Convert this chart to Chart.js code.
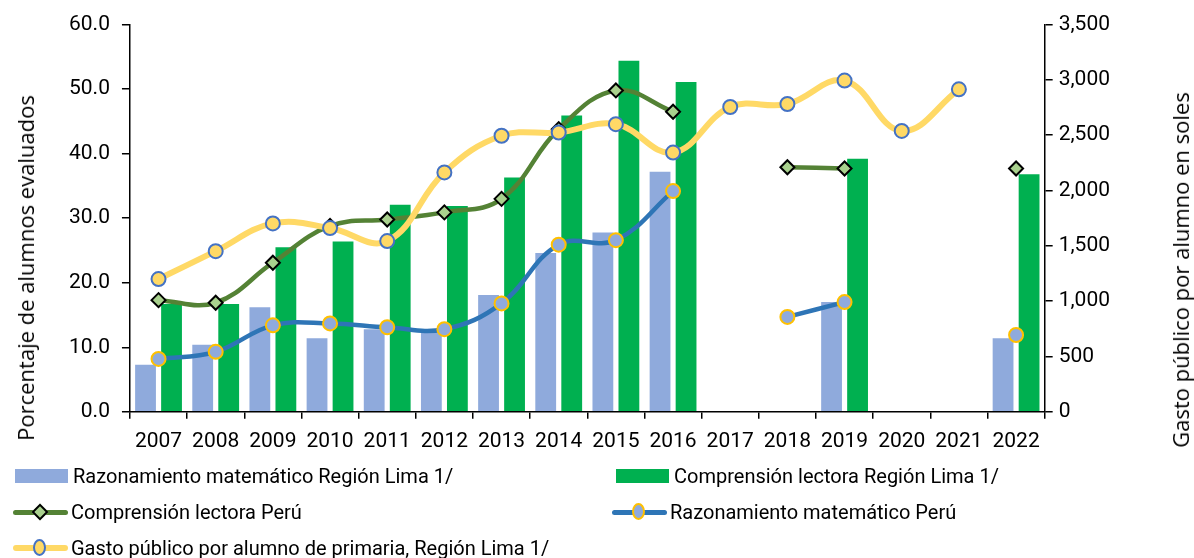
<!DOCTYPE html>
<html>
<head>
<meta charset="utf-8">
<script src="https://cdn.jsdelivr.net/npm/chart.js@4.4.0/dist/chart.umd.min.js"></script>
<style>
    body { margin: 0; background: #fff; }
    #wrap { position: relative; width: 1194px; height: 558px; }
    .ytitle { position: absolute; font-family: 'Open Sans', sans-serif; font-size: 22px; color: #000;
              white-space: nowrap; transform: translate(-50%, -50%) rotate(-90deg); }
    .leg { position: absolute; font-family: Roboto, sans-serif; font-size: 20px; color: #000; white-space: nowrap;
           display: flex; align-items: center; height: 24px; }
    .sw { position: relative; width: 55px; height: 24px; margin-right: 3px; }
    .sw .bar { position: absolute; left: 0; top: 5px; width: 53px; height: 14px; }
    .sw .ln { position: absolute; left: 0; top: 9px; width: 55px; border-radius: 3px; }
    .sw .mk { position: absolute; left: 20px; top: 5px; width: 10px; height: 10px; border: 2px solid; }
</style>
</head>
<body>
<div id="wrap">
    <canvas id="chart" width="1194" height="558"></canvas>
    <div class="ytitle" style="left: 25px; top: 268px;">Porcentaje de alumnos evaluados</div>
    <div class="ytitle" style="left: 1180px; top: 270px;">Gasto público por alumno en soles</div>
    <div id="legend"></div>
</div>
<script>
years = ['2007', '2008', '2009', '2010', '2011', '2012', '2013', '2014',
         '2015', '2016', '2017', '2018', '2019', '2020', '2021', '2022']

raz_mat_lima = [7.3, 10.4, 16.2, 11.4, 12.8, 12.3, 18.1, 24.6, 27.8, 37.2, null, null, 17.0, null, null, 11.4]
comp_lec_lima = [16.7, 16.7, 25.5, 26.4, 32.1, 31.9, 36.3, 45.9, 54.4, 51.1, null, null, 39.2, null, null, 36.8]
comp_lec_peru = [17.3, 16.9, 23.1, 28.8, 29.8, 30.9, 33.0, 43.8, 49.8, 46.5, null, 37.9, 37.7, null, null, 37.7]
raz_mat_peru = [8.2, 9.3, 13.4, 13.7, 13.1, 12.8, 16.8, 25.9, 26.6, 34.2, null, 14.7, 17.0, null, null, 11.9]
gasto = [1200, 1452, 1703, 1661, 1543, 2164, 2495, 2524, 2600, 2343, 2755, 2782, 2994, 2539, 2915, null]

colors = {
    bar_blue: '#8FAADC',
    bar_green: '#00B050',
    line_green: '#548235',
    diamond: '#A9D18E',
    line_blue: '#2E75B6',
    gold: '#FFC000',
    line_yellow: '#FFD966',
    ring_blue: '#4472C4'
}

tick_font = { family: 'Roboto', size: 21 }

const data = {
    labels: years,
    datasets: [{
        type: 'line',
        label: 'Gasto público por alumno de primaria, Región Lima 1/',
        data: gasto,
        yAxisID: 'y2',
        borderColor: colors.line_yellow,
        borderWidth: 6,
        tension: 0.4,
        pointRadius: 7,
        pointBorderWidth: 2,
        pointBackgroundColor: colors.line_yellow,
        pointBorderColor: colors.ring_blue,
        order: 0
    }, {
        type: 'line',
        label: 'Razonamiento matemático Perú',
        data: raz_mat_peru,
        yAxisID: 'y',
        borderColor: colors.line_blue,
        borderWidth: 4.5,
        tension: 0.4,
        pointRadius: 7,
        pointBorderWidth: 2,
        pointBackgroundColor: colors.bar_blue,
        pointBorderColor: colors.gold,
        order: 1
    }, {
        type: 'line',
        label: 'Comprensión lectora Perú',
        data: comp_lec_peru,
        yAxisID: 'y',
        borderColor: colors.line_green,
        borderWidth: 4.5,
        tension: 0.4,
        pointStyle: 'rectRot',
        pointRadius: 7,
        pointBorderWidth: 2,
        pointBackgroundColor: colors.diamond,
        pointBorderColor: '#000',
        order: 2
    }, {
        type: 'bar',
        label: 'Razonamiento matemático Región Lima 1/',
        data: raz_mat_lima,
        yAxisID: 'y',
        backgroundColor: colors.bar_blue,
        categoryPercentage: 0.91,
        barPercentage: 0.8,
        order: 3
    }, {
        type: 'bar',
        label: 'Comprensión lectora Región Lima 1/',
        data: comp_lec_lima,
        yAxisID: 'y',
        backgroundColor: colors.bar_green,
        categoryPercentage: 0.91,
        barPercentage: 0.8,
        order: 3
    }]
};

chart = new Chart(document.getElementById('chart').getContext('2d'), {
    data: data,
    options: {
        responsive: false,
        animation: false,
        devicePixelRatio: 1,
        layout: {
            padding: { left: 57, right: 78, top: 16, bottom: 94 }
        },
        plugins: {
            legend: { display: false },
            tooltip: { enabled: false }
        },
        scales: {
            x: {
                offset: true,
                grid: { offset: true, drawOnChartArea: false, drawTicks: true, tickLength: 7, color: '#000', lineWidth: 1.5 },
                border: { color: '#000', width: 1.5 },
                ticks: { color: '#000', font: tick_font, padding: 10, maxRotation: 0, autoSkip: false }
            },
            y: {
                position: 'left',
                min: 0,
                max: 60,
                ticks: {
                    stepSize: 10,
                    color: '#000',
                    font: tick_font,
                    padding: 12,
                    callback: v => v.toFixed(1)
                },
                grid: { drawOnChartArea: false, drawTicks: true, tickLength: 8, color: '#000', lineWidth: 1.5 },
                border: { color: '#000', width: 1.5 }
            },
            y2: {
                position: 'right',
                min: 0,
                max: 3500,
                ticks: {
                    stepSize: 500,
                    color: '#000',
                    font: tick_font,
                    padding: 6,
                    callback: v => v.toLocaleString('en-US')
                },
                grid: { drawOnChartArea: false, drawTicks: true, tickLength: 8, color: '#000', lineWidth: 1.5 },
                border: { color: '#000', width: 1.5 }
            }
        }
    }
});

// legend laid out like the original (two columns, three rows)
legend_items = [
    { text: 'Razonamiento matemático Región Lima 1/', x: 15, y: 464, kind: 'bar', fill: colors.bar_blue },
    { text: 'Comprensión lectora Región Lima 1/', x: 616, y: 464, kind: 'bar', fill: colors.bar_green },
    { text: 'Comprensión lectora Perú', x: 13, y: 500, kind: 'diamond', line: colors.line_green, lw: 5, fill: colors.diamond, ring: '#000' },
    { text: 'Razonamiento matemático Perú', x: 612, y: 500, kind: 'circle', line: colors.line_blue, lw: 5, fill: colors.bar_blue, ring: colors.gold },
    { text: 'Gasto público por alumno de primaria, Región Lima 1/', x: 13, y: 536, kind: 'circle', line: colors.line_yellow, lw: 6, fill: colors.line_yellow, ring: colors.ring_blue }
]

legend_items.forEach(function (it) {
    let el = document.createElement('div')
    el.className = 'leg'
    el.style.left = it.x + 'px'
    el.style.top = it.y + 'px'
    let sw = document.createElement('div')
    sw.className = 'sw'
    if (it.kind == 'bar') {
        sw.innerHTML = '<div class="bar" style="background:' + it.fill + '"></div>'
    } else {
        let shape = it.kind == 'diamond'
            ? 'transform: rotate(45deg); width: 8px; height: 8px; left: 21px; top: 6px;'
            : 'border-radius: 50%; width: 9px; height: 13px; top: 3px;'
        sw.innerHTML = '<div class="ln" style="height:' + it.lw + 'px; top:' + (12 - it.lw / 2) + 'px; background:' + it.line + '"></div>' +
            '<div class="mk" style="background:' + it.fill + '; border-color:' + it.ring + ';' + shape + '"></div>'
    }
    el.appendChild(sw)
    el.appendChild(document.createTextNode(it.text))
    document.getElementById('legend').appendChild(el)
})
</script>
</body>
</html>
